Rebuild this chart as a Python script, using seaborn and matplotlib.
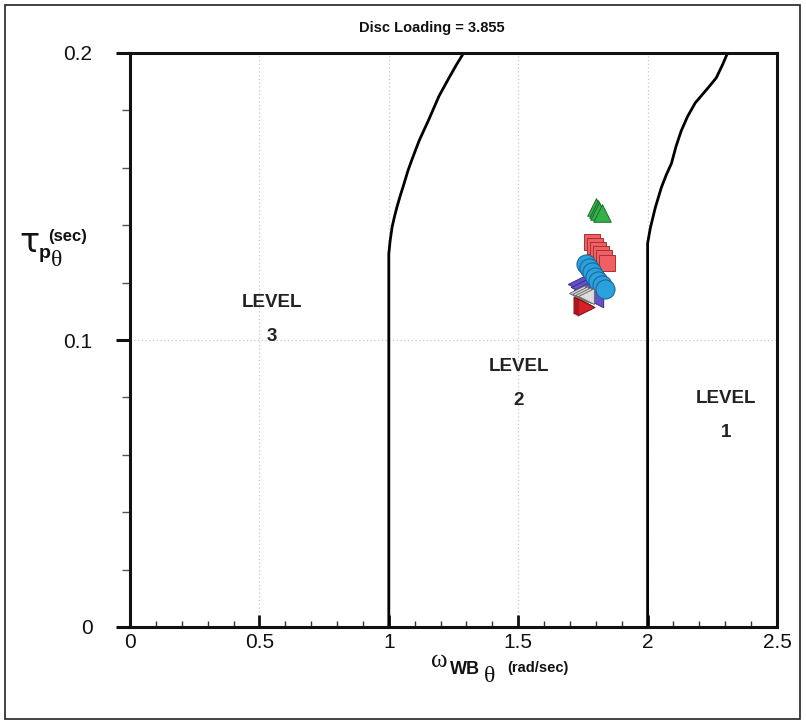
import numpy as np
import pandas as pd
import seaborn as sns
import matplotlib
matplotlib.use("Agg")
import matplotlib.pyplot as plt
from matplotlib.ticker import MultipleLocator
from matplotlib.patches import Rectangle

# Level boundaries (omega_WB vs tau_p)
b12_x = [1.0, 1.0, 1.005, 1.013, 1.022, 1.032, 1.045, 1.059, 1.074, 1.090, 1.117, 1.156, 1.194, 1.233, 1.262, 1.289]
b12_y = [0.0, 0.130, 0.1345, 0.1395, 0.1430, 0.1465, 0.1505, 0.1545, 0.1590, 0.1630, 0.1694, 0.1771, 0.1850, 0.1914, 0.1960, 0.2]
b23_x = [2.0, 2.0, 2.011, 2.030, 2.053, 2.072, 2.092, 2.110, 2.130, 2.155, 2.184, 2.234, 2.265, 2.290, 2.309]
b23_y = [0.0, 0.1337, 0.1392, 0.1462, 0.1531, 0.1575, 0.1615, 0.1675, 0.1729, 0.1780, 0.1826, 0.1879, 0.1913, 0.1960, 0.2]

# Flight-test points
green_x = [1.799, 1.807, 1.814, 1.822]
green_y = [0.1463, 0.1456, 0.1450, 0.1443]
sq_x = [1.786, 1.798, 1.809, 1.821, 1.832, 1.844]
sq_y = [0.1340, 0.1326, 0.1312, 0.1298, 0.1284, 0.1270]
purp_x = [1.736, 1.748, 1.760, 1.772, 1.784]
purp_y = [0.1195, 0.1185, 0.1175, 0.1165, 0.1155]
circ_x = [1.761, 1.773, 1.785, 1.798, 1.810, 1.822, 1.834]
circ_y = [0.1265, 0.1250, 0.1236, 0.1221, 0.1207, 0.1192, 0.1178]
grey_x = [1.726, 1.738, 1.749, 1.761]
grey_y = [0.1164, 0.1160, 0.1157, 0.1153]
rtri_x = [1.745, 1.753, 1.761]
rtri_y = [0.1122, 0.1118, 0.1115]

levels = ["LEVEL\n\n1", "LEVEL\n\n2", "LEVEL\n\n3"]
level_x = [2.303, 1.502, 0.547]
level_y = [0.0737, 0.0848, 0.1071]

sns.set_theme(style="white")
plt.rcParams['font.family'] = ['Liberation Sans', 'DejaVu Sans']
SERIF = ['Liberation Serif', 'DejaVu Serif']

fig = plt.figure(figsize=(8.06, 7.24), dpi=100)
ax = fig.add_axes([130/806, 1-627/724, (777-130)/806, (627-53)/724])

# outer frame
fig.patches.append(Rectangle((5/806, 5/724), 795/806, 714/724, transform=fig.transFigure,
                             fill=False, edgecolor='#222222', linewidth=1.2))

ax.set_xlim(0, 2.5)
ax.set_ylim(0, 0.2)

# dotted grid on major ticks
for gx in [0.5, 1.0, 1.5, 2.0]:
    ax.axvline(gx, color='#c8c8c8', linestyle=(0, (1, 2)), linewidth=0.9, zorder=0)
ax.axhline(0.1, color='#c8c8c8', linestyle=(0, (1, 2)), linewidth=0.9, zorder=0)

bnd = pd.DataFrame({'x': b12_x + b23_x, 'y': b12_y + b23_y,
                    'seg': ['a'] * len(b12_x) + ['b'] * len(b23_x)})
sns.lineplot(data=bnd, x='x', y='y', units='seg', estimator=None, sort=False,
             color='black', linewidth=2.0, ax=ax, legend=False)

def pts(xs, ys, marker, face, edge, size):
    d = pd.DataFrame({'x': xs, 'y': ys})
    sns.scatterplot(data=d, x='x', y='y', marker=marker, color=face, edgecolor=edge,
                    linewidth=0.7, s=size, ax=ax, legend=False, zorder=3)

pts(green_x, green_y, '^', '#33b04a', '#1d6e2c', 160)
pts(sq_x, sq_y, 's', '#f25f62', '#a23434', 130)
pts(purp_x, purp_y, '<', '#6652c8', '#3a2c86', 260)
pts(circ_x, circ_y, 'o', '#2aa0dc', '#1d5f96', 190)
pts(grey_x, grey_y, '<', '#dcdcdc', '#6a6a6a', 130)
pts(rtri_x, rtri_y, '>', '#d81f26', '#7a1014', 150)

for lab, lx, ly in zip(levels, level_x, level_y):
    ax.text(lx, ly, lab, ha='center', va='center', fontsize=13.5, fontweight='bold',
            color='#222222', linespacing=1.0)

# axes styling
for sp in ax.spines.values():
    sp.set_color('#111111')
    sp.set_linewidth(2.2)
ax.set_xticks([0, 0.5, 1, 1.5, 2, 2.5])
ax.set_xticklabels(['0', '0.5', '1', '1.5', '2', '2.5'])
ax.set_yticks([0, 0.1, 0.2])
ax.set_yticklabels(['0', '0.1', '0.2'])
ax.xaxis.set_minor_locator(MultipleLocator(0.1))
ax.yaxis.set_minor_locator(MultipleLocator(0.02))
ax.tick_params(axis='x', which='major', direction='in', length=9, width=2.0,
               labelsize=15, pad=4, color='#111111', bottom=True, labelcolor='#111111')
ax.tick_params(axis='x', which='minor', direction='in', length=4.5, width=1.0,
               color='#333333', bottom=True)
ax.tick_params(axis='y', which='major', direction='out', length=10, width=2.2,
               labelsize=15, pad=17, color='#111111', left=True, labelcolor='#111111')
ax.tick_params(axis='y', which='minor', direction='out', length=5.5, width=1.0,
               color='#555555', left=True)
ax.set_xlabel('')
ax.set_ylabel('')

fig.text(432/806, 1-28/724, 'Disc Loading = 3.855', ha='center', va='center',
         fontsize=10.5, fontweight='bold', color='#111111')

# vertical-axis label, built from its pieces
fig.text(19/806, 1-242/724, 'τ', ha='left', va='center', fontsize=24,
         family=['DejaVu Sans'], color='#111111')
fig.text(39/806, 1-253/724, 'p', ha='left', va='center', fontsize=14,
         fontweight='bold', color='#111111')
fig.text(51/806, 1-261/724, 'θ', ha='left', va='center', fontsize=17,
         family=SERIF, color='#111111')
fig.text(48/806, 1-237/724, '(sec)', ha='left', va='center', fontsize=12,
         fontweight='bold', color='#111111')

# horizontal-axis label
fig.text(431/806, 1-661/724, 'ω', ha='left', va='center', fontsize=18,
         family=SERIF, color='#111111')
fig.text(450/806, 1-670/724, 'WB', ha='left', va='center', fontsize=13,
         fontweight='bold', color='#111111')
fig.text(484/806, 1-677/724, 'θ', ha='left', va='center', fontsize=17,
         family=SERIF, color='#111111')
fig.text(507/806, 1-668/724, '(rad/sec)', ha='left', va='center', fontsize=10.5,
         fontweight='bold', color='#111111')

fig.savefig('out.png', dpi=100)
